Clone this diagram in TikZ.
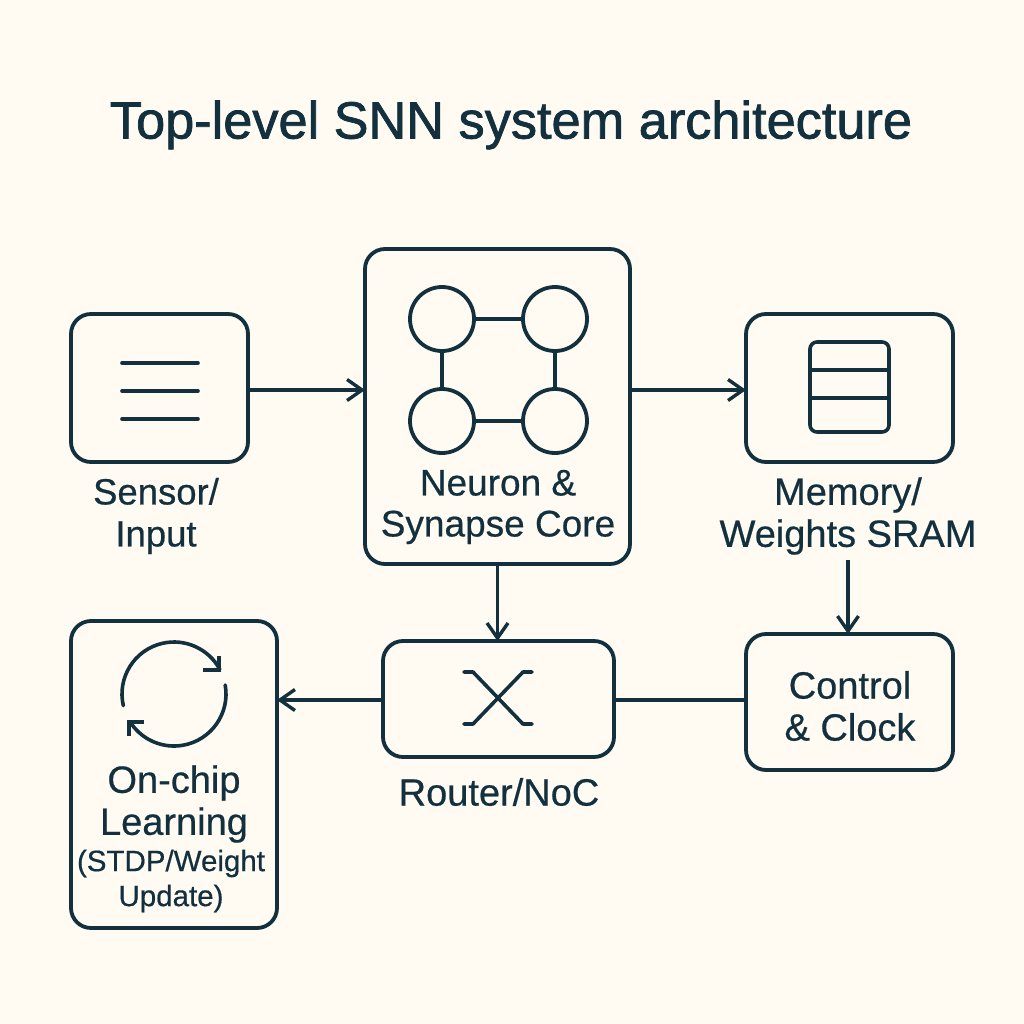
\documentclass[tikz,border=0pt]{standalone}
\usepackage{fontspec}
\setmainfont[FakeBold=0.5]{Liberation Sans}
\newfontfamily\titlefont[FakeBold=1.4]{Liberation Sans}
\usetikzlibrary{arrows.meta}
\definecolor{ink}{HTML}{12303D}
\definecolor{paper}{HTML}{FFFBF2}
\tikzset{
  box/.style={draw=ink,line width=3.8pt,rounded corners=20pt,outer sep=0pt,inner sep=0pt},
  neuron/.style={draw=ink,line width=3.8pt,circle,minimum size=64pt,inner sep=0pt,outer sep=0pt},
  lab/.style={text=ink,align=center,font=\fontsize{38}{42}\selectfont,inner sep=0pt},
  sensorfont/.style={text=ink,align=center,font=\fontsize{36.5}{42}\selectfont,inner sep=0pt},
  corefont/.style={text=ink,align=center,font=\fontsize{37}{41}\selectfont,inner sep=0pt},
  smalllab/.style={text=ink,align=center,font=\fontsize{29.5}{35}\selectfont,inner sep=0pt},
  conn/.style={draw=ink,line width=3.4pt},
  arrow/.style={conn,-{Straight Barb[length=15pt,width=21pt,line width=3.4pt]}},
  icon/.style={draw=ink,line width=3.6pt,line cap=round,line join=round}
}
\begin{document}
\begin{tikzpicture}[x=1pt,y=-1pt]
\useasboundingbox (0,0) rectangle (1024,1024);
\fill[paper] (0,0) rectangle (1024,1024);
\node[text=ink,font=\titlefont\fontsize{52.3}{60}\selectfont,inner sep=0pt] (title) at (511,125) {Top-level SNN system architecture};
\node[box,minimum width=177pt,minimum height=148pt] (sensor) at (159.5,388) {};
\node[box,minimum width=265pt,minimum height=315pt] (core) at (497.5,406.5) {};
\node[box,minimum width=207pt,minimum height=148pt] (memory) at (849.5,388) {};
\node[box,minimum width=207pt,minimum height=136pt] (control) at (849.5,702) {};
\node[box,minimum width=231pt,minimum height=116pt] (router) at (498.5,699) {};
\node[box,minimum width=206pt,minimum height=307pt] (learn) at (174,774.5) {};
% labels
\node[sensorfont] (sensorlab) at (156,516) {Sensor/\\Input};
\node[corefont] (corelab) at (498,507) {Neuron \&\\Synapse Core};
\node[lab] (memlab) at (848,516) {Memory/\\Weights SRAM};
\node[lab] (controllab) at (850,706) {Control\\\& Clock};
\node[lab] (routerlab) at (499,792) {Router/NoC};
\node[lab] (learnlab) at (174,804) {On-chip\\Learning};
\node[smalllab] (learnsub) at (171,881) {(STDP/Weight\\Update)};
% neurons
\node[neuron] (n1) at (442,319) {};
\node[neuron] (n2) at (555,319) {};
\node[neuron] (n3) at (442,421) {};
\node[neuron] (n4) at (555,421) {};
\draw[conn] (n1) -- (n2);
\draw[conn] (n3) -- (n4);
\draw[conn] (n1) -- (n3);
\draw[conn] (n2) -- (n4);
% connectors
\draw[arrow] (sensor.east |- 0,390) -- (core.west |- 0,390);
\draw[arrow] (core.east |- 0,390) -- (memory.west |- 0,390);
\draw[arrow] (core.south) -- (core.south |- router.north);
\coordinate (memout) at (848,560);
\draw[arrow] (memout) -- (memout |- control.north);
\draw[conn] (control.west |- 0,700) -- (router.east |- 0,700);
\draw[arrow] (router.west |- 0,700) -- (learn.east |- 0,700);
% sensor icon
\draw[icon] (122,363) -- (198,363);
\draw[icon] (122,391) -- (198,391);
\draw[icon] (122,419) -- (198,419);
% memory icon
\draw[icon,rounded corners=7pt] (810,342) rectangle (889,432);
\draw[icon] (810,370) -- (889,370);
\draw[icon] (810,398) -- (889,398);
% router icon
\draw[icon] (464,672) -- (473,672) -- (523,724) -- (532,724);
\draw[icon] (464,724) -- (473,724) -- (523,672) -- (532,672);
% cycle icon
\coordinate (cyc) at (174,694);
\draw[icon] ([shift={(-193:52)}]cyc) arc[start angle=-193,end angle=-28,radius=52];
\draw[icon] ([shift={(-10:52)}]cyc) arc[start angle=-10,end angle=144,radius=52];
\draw[icon,line cap=butt,line join=miter] (219,656) -- (219,670) -- (203,670);
\draw[icon,line cap=butt,line join=miter] (129,736) -- (129,722) -- (144,722);
\end{tikzpicture}
\end{document}
